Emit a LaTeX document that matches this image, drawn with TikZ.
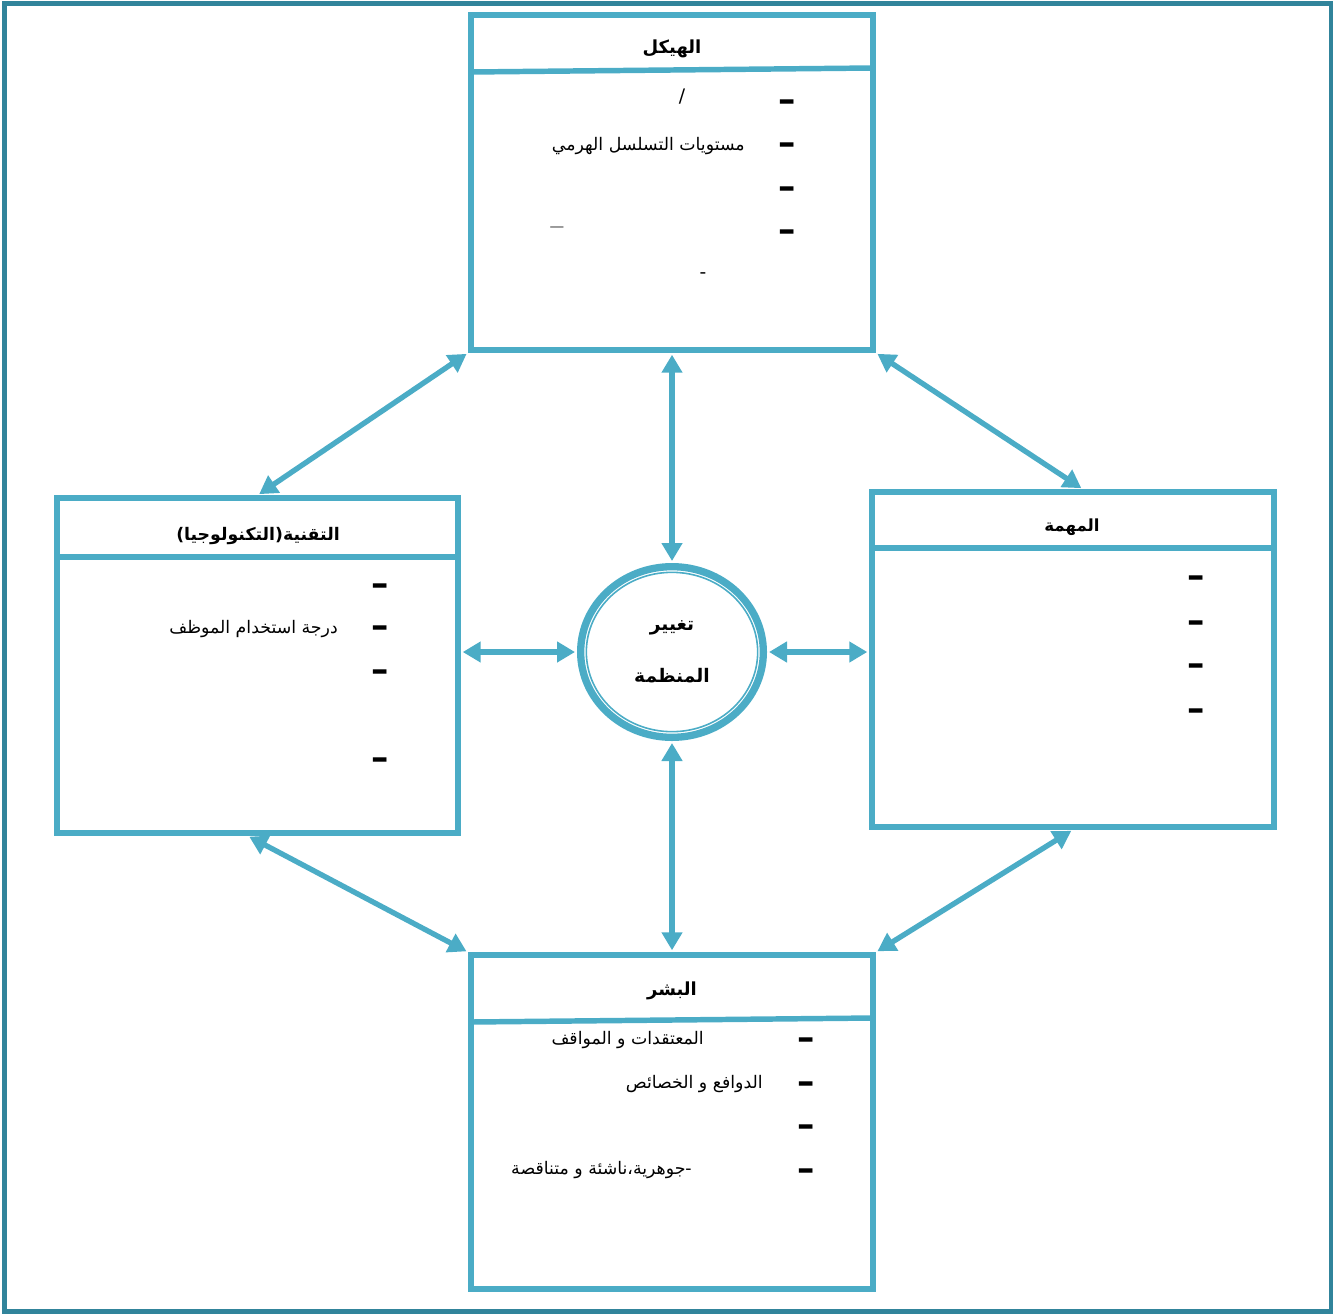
\documentclass[tikz,border=0pt]{standalone}
\usepackage{fontspec}
\usetikzlibrary{arrows.meta,shapes.geometric}
\TeXXeTstate=1
\newfontfamily\arabicfont[Script=Arabic]{DejaVu Sans}
\newfontfamily\dashfont{DejaVu Sans}
\definecolor{boxblue}{HTML}{4BACC6}
\definecolor{frameteal}{HTML}{31849B}

\begin{document}
\begin{tikzpicture}[x=0.75pt,y=-0.75pt,
  panel/.style={draw=boxblue, line width=4.1pt, inner sep=0pt},
  divider/.style={draw=boxblue, line width=4.1pt},
  link/.style={draw=boxblue, line width=4pt, shorten <=1.5pt, shorten >=1.5pt,
    {Triangle[length=13.5pt,width=15pt]}-{Triangle[length=13.5pt,width=15pt]}},
  heading/.style={font=\arabicfont\bfseries\fontsize{13.5}{16}\selectfont, inner sep=0pt},
  core/.style={font=\arabicfont\bfseries\fontsize{14}{16}\selectfont, inner sep=0pt},
  entry/.style={font=\arabicfont\fontsize{13}{15}\selectfont, inner sep=0pt, anchor=base east},
  bullet/.style={font=\dashfont\bfseries\fontsize{26}{26}\selectfont, inner sep=0pt, anchor=base},
  glyph/.style={font=\arabicfont\fontsize{14}{16}\selectfont, inner sep=0pt},
]
\useasboundingbox (0,0) rectangle (1333,1313);
% outer frame
\draw[frameteal, line width=3.75pt] (4.5,4) rectangle (1331,1311);

% the four panels
\node[panel, minimum width=301.5pt, minimum height=251.25pt] (struct) at (672,182.5) {};
\node[panel, minimum width=300.75pt, minimum height=251.25pt] (tech) at (257.5,665.5) {};
\node[panel, minimum width=301.5pt, minimum height=251.25pt] (task) at (1073,659.5) {};
\node[panel, minimum width=301.5pt, minimum height=250.5pt] (people) at (672,1122) {};

% header dividers
\draw[divider] (471,72) -- (873,68);
\draw[divider] (57,557) -- (458,557);
\draw[divider] (872,548) -- (1274,548);
\draw[divider] (471,1022) -- (873,1018);

% headings
\node[heading] (structT) at (672,49) {\beginR الهيكل\endR};
\node[heading, font=\arabicfont\bfseries\fontsize{13}{16}\selectfont] (techT) at (258,536) {\beginR التقنية(التكنولوجيا)\endR};
\node[heading, font=\arabicfont\bfseries\fontsize{12.5}{15}\selectfont] (taskT) at (1072,527) {\beginR المهمة\endR};
\node[heading] (peopleT) at (672,991) {\beginR البشر\endR};

% central element
\node[ellipse, draw=boxblue, line width=5.5pt, minimum width=137pt, minimum height=128pt] (chg) at (672,652) {};
\node[ellipse, draw=boxblue, line width=1.2pt, minimum width=128.5pt, minimum height=119.5pt] (chgin) at (chg) {};
\node[core] (chgA) at (672,628) {\beginR تغيير\endR};
\node[core] (chgB) at (672,676) {\beginR المنظمة\endR};

% connectors
\draw[link] (struct.south west) -- (tech.north);
\draw[link] (struct.south) -- (chg.north);
\draw[link] (struct.south east) -- ([xshift=7.5pt]task.north);
\draw[link] (tech.east |- chg) -- (chg.west);
\draw[link] (chg.east) -- (task.west |- chg);
\draw[link] (chg.south) -- (people.north);
\draw[link] ([xshift=-7.5pt]tech.south) -- (people.north west);
\draw[link] (task.south) -- (people.north east);

% structure entries
\node[bullet] (s1) at (787,111) {–};
\node[bullet] (s2) at (787,154) {–};
\node[bullet] (s3) at (787,198) {–};
\node[bullet] (s4) at (787,241) {–};
\node[glyph] (sSlash) at (682,97) {/};
\node[entry] (sLevels) at (745,150) {\beginR مستويات التسلسل الهرمي\endR};
\node[inner sep=0pt, font=\dashfont\fontsize{11}{13}\selectfont, text=black!75] (sRule) at (557,229) {—};
\node[glyph] (sHyph) at (703,276) {-};

% technology entries
\node[bullet] (t1) at (380,595) {–};
\node[bullet] (t2) at (380,637) {–};
\node[bullet] (t3) at (380,681) {–};
\node[bullet] (t4) at (380,769) {–};
\node[entry] (tUse) at (338,633) {\beginR درجة استخدام الموظف\endR};

% task entries
\node[bullet] (k1) at (1196,587) {–};
\node[bullet] (k2) at (1196,632) {–};
\node[bullet] (k3) at (1196,675) {–};
\node[bullet] (k4) at (1196,720) {–};

% people entries
\node[bullet] (p1) at (806,1049) {–};
\node[bullet] (p2) at (806,1093) {–};
\node[bullet] (p3) at (806,1136) {–};
\node[bullet] (p4) at (806,1180) {–};
\node[entry] (pBeliefs) at (704,1044) {\beginR المعتقدات و المواقف\endR};
\node[entry] (pMotives) at (763,1088) {\beginR الدوافع و الخصائص\endR};
\node[entry] (pKinds) at (692,1174) {\beginR -جوهرية،ناشئة و متناقصة\endR};
\end{tikzpicture}
\end{document}
